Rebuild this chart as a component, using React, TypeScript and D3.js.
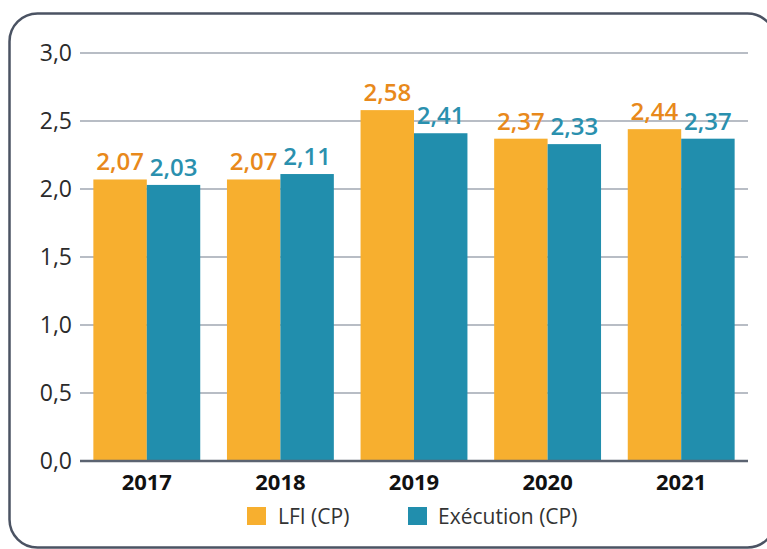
import React from "react";
import * as d3 from "d3";

const years = ["2017", "2018", "2019", "2020", "2021"];
const lfi = [2.07, 2.07, 2.58, 2.37, 2.44];
const execution = [2.03, 2.11, 2.41, 2.33, 2.37];
const yTicks = [0, 0.5, 1, 1.5, 2, 2.5, 3];
const seriesNames = ["LFI (CP)", "Exécution (CP)"];

const W = 767;
const H = 549;
const FONT = "'Open Sans', 'DejaVu Sans', sans-serif";

const barColors = ["#F7AF2F", "#218EAD"];
const labelColors = ["#E8891B", "#2A90AE"];

export default function App() {
  const left = 80;
  const right = 748;
  const top = 53;
  const bottom = 461;

  const x = d3.scaleBand<string>().domain(years).range([left, right]).paddingInner(0.2).paddingOuter(0.1);
  const x1 = d3.scaleBand<string>().domain(["lfi", "exe"]).range([0, x.bandwidth()]);
  const y = d3.scaleLinear().domain([0, 3]).range([bottom, top]);
  const fmt = (v: number) => v.toFixed(2).replace(".", ",");
  const fmtTick = (v: number) => v.toFixed(1).replace(".", ",");

  const series = [lfi, execution];
  const keys = ["lfi", "exe"];

  return (
    <svg width={W} height={H} style={{ position: "absolute", left: 0, top: 0, background: "#fff" }}>
      <rect x={9.5} y={13.5} width={766} height={534} rx={28} ry={28} fill="#fff" stroke="#4B5363" strokeWidth={2.5} />
      {yTicks.map((t) => (
        <g key={t}>
          {t !== 0 && (
            <line x1={left} x2={right} y1={y(t)} y2={y(t)} stroke="#A0A7B2" strokeWidth={1.5} />
          )}
          <text x={72} y={y(t)} dy="0.35em" textAnchor="end" fontFamily={FONT} fontSize={23} fill="#2b2b2b">
            {fmtTick(t)}
          </text>
        </g>
      ))}
      {years.map((yr, i) => (
        <g key={yr} transform={`translate(${x(yr)},0)`}>
          {series.map((s, j) => (
            <g key={j}>
              <rect x={x1(keys[j])} y={y(s[i])} width={x1.bandwidth()} height={y(0) - y(s[i])} fill={barColors[j]} />
              <text
                x={(x1(keys[j]) as number) + x1.bandwidth() / 2}
                y={y(s[i]) - 9}
                textAnchor="middle"
                fontFamily={FONT}
                fontWeight={600}
                fontSize={24}
                fill={labelColors[j]}
              >
                {fmt(s[i])}
              </text>
            </g>
          ))}
          <text x={x.bandwidth() / 2} y={490} textAnchor="middle" fontFamily={FONT} fontWeight={700} fontSize={22} fill="#111">
            {yr}
          </text>
        </g>
      ))}
      <line x1={left} x2={right} y1={bottom} y2={bottom} stroke="#5B6371" strokeWidth={2.5} />
      <g>
        <rect x={247} y={507} width={19} height={18} fill={barColors[0]} />
        <text x={278} y={524} fontFamily={FONT} fontSize={21} fill="#333">{seriesNames[0]}</text>
        <rect x={408} y={507} width={19} height={18} fill={barColors[1]} />
        <text x={438} y={524} fontFamily={FONT} fontSize={21} fill="#333">{seriesNames[1]}</text>
      </g>
    </svg>
  );
}
